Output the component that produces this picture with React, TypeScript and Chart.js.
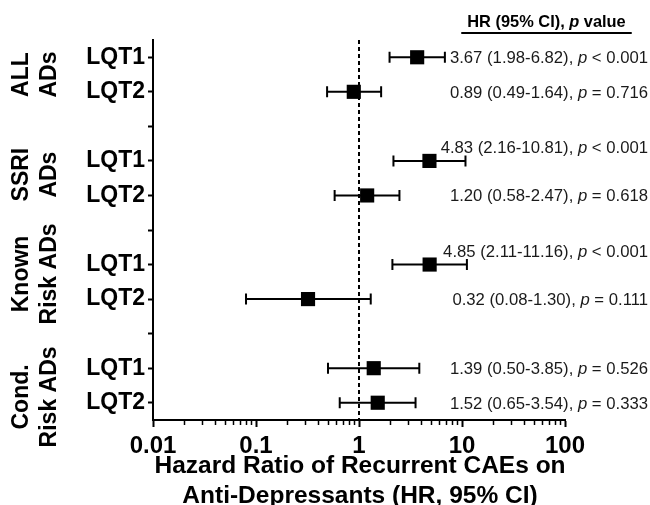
import React, { useEffect, useRef } from 'react';
import { Chart, registerables } from 'chart.js';

Chart.register(...registerables);

// ---------- data ----------
const groupLines = [
  ['ALL', 'ADs'],
  ['SSRI', 'ADs'],
  ['Known', 'Risk ADs'],
  ['Cond.', 'Risk ADs'],
];
const subtypes = ['LQT1', 'LQT2'];
const hr = [3.67, 0.89, 4.83, 1.2, 4.85, 0.32, 1.39, 1.52];
const ciLow = [1.98, 0.49, 2.16, 0.58, 2.11, 0.08, 0.5, 0.65];
const ciHigh = [6.82, 1.64, 10.81, 2.47, 11.16, 1.3, 3.85, 3.54];
const pRel = ['<', '=', '<', '=', '<', '=', '=', '='];
const pVal = ['0.001', '0.716', '0.001', '0.618', '0.001', '0.111', '0.526', '0.333'];
const xTickValues = [0.01, 0.1, 1, 10, 100];
const xTickLabels = ['0.01', '0.1', '1', '10', '100'];
const xTitle = ['Hazard Ratio of Recurrent CAEs on', 'Anti-Depressants (HR, 95% CI)'];
const headerParts = ['HR (95% CI), ', 'p', ' value'];

// ---------- helpers ----------
const FAMILY = '"Liberation Sans", Arial, Helvetica, sans-serif';
const rowsPerGroup = subtypes.length + 1;
const rowOf = (i: number) => Math.floor(i / subtypes.length) * rowsPerGroup + (i % subtypes.length);
const allRows = Array.from({ length: groupLines.length * rowsPerGroup - 1 }, (_, r) => r);
const fmt = (v: number) => v.toFixed(2);

type Seg = { text: string; font: string };

function segWidth(ctx: CanvasRenderingContext2D, segs: Seg[]) {
  let w = 0;
  for (const s of segs) {
    ctx.font = s.font;
    w += ctx.measureText(s.text).width;
  }
  return w;
}

function drawSegs(ctx: CanvasRenderingContext2D, segs: Seg[], x: number, y: number) {
  ctx.textAlign = 'left';
  ctx.textBaseline = 'alphabetic';
  let cx = x;
  for (const s of segs) {
    ctx.font = s.font;
    ctx.fillText(s.text, cx, y);
    cx += ctx.measureText(s.text).width;
  }
}

const forestPlugin = {
  id: 'forest',
  beforeDatasetsDraw(chart: any) {
    const { ctx, chartArea, scales } = chart;
    const xs = scales.x;
    const ys = scales.y;
    ctx.save();
    // reference line at HR = 1
    const x1 = xs.getPixelForValue(1);
    ctx.strokeStyle = '#000';
    ctx.lineWidth = 2;
    ctx.setLineDash([4, 3]);
    ctx.beginPath();
    ctx.moveTo(x1, chartArea.top);
    ctx.lineTo(x1, chartArea.bottom);
    ctx.stroke();
    ctx.setLineDash([]);
    // error bars
    ctx.lineWidth = 2;
    hr.forEach((_, i) => {
      const y = ys.getPixelForValue(rowOf(i));
      const a = xs.getPixelForValue(ciLow[i]);
      const b = xs.getPixelForValue(ciHigh[i]);
      ctx.beginPath();
      ctx.moveTo(a, y);
      ctx.lineTo(b, y);
      ctx.moveTo(a, y - 5.5);
      ctx.lineTo(a, y + 5.5);
      ctx.moveTo(b, y - 5.5);
      ctx.lineTo(b, y + 5.5);
      ctx.stroke();
    });
    ctx.restore();
  },
  afterDraw(chart: any) {
    const { ctx, chartArea, scales } = chart;
    const xs = scales.x;
    const ys = scales.y;
    ctx.save();
    ctx.fillStyle = '#000';
    ctx.strokeStyle = '#000';

    // minor x ticks
    ctx.lineWidth = 1.5;
    for (let d = 0; d < xTickValues.length - 1; d++) {
      for (let m = 2; m <= 9; m++) {
        const px = Math.round(xs.getPixelForValue(xTickValues[d] * m)) + 0.5;
        ctx.beginPath();
        ctx.moveTo(px, chartArea.bottom);
        ctx.lineTo(px, chartArea.bottom + 5);
        ctx.stroke();
      }
    }

    // x-axis title (two lines)
    ctx.font = `bold 24.5px ${FAMILY}`;
    ctx.textAlign = 'center';
    ctx.textBaseline = 'alphabetic';
    const tcx = (chartArea.left + chartArea.right) / 2 + 1;
    xTitle.forEach((t, k) => {
      ctx.fillText(t, tcx, chartArea.bottom + 53 + k * 30);
    });

    // annotations on the right
    const reg = `16.7px ${FAMILY}`;
    const ital = `italic 16.7px ${FAMILY}`;
    const rightEdge = 648;
    hr.forEach((v, i) => {
      const segs: Seg[] = [
        { text: `${fmt(v)} (${fmt(ciLow[i])}-${fmt(ciHigh[i])}), `, font: reg },
        { text: 'p', font: ital },
        { text: ` ${pRel[i]} ${pVal[i]}`, font: reg },
      ];
      const w = segWidth(ctx, segs);
      const left = rightEdge - w;
      let y = ys.getPixelForValue(rowOf(i));
      const hiPx = xs.getPixelForValue(ciHigh[i]);
      if (hiPx > left + 8) y -= 14;
      ctx.fillStyle = '#1a1a1a';
      drawSegs(ctx, segs, left, y + 6);
    });

    // header
    ctx.fillStyle = '#000';
    const hb = `bold 16.4px ${FAMILY}`;
    const hbi = `bold italic 16.4px ${FAMILY}`;
    const hsegs: Seg[] = [
      { text: headerParts[0], font: hb },
      { text: headerParts[1], font: hbi },
      { text: headerParts[2], font: hb },
    ];
    const hw = segWidth(ctx, hsegs);
    const hx = 546.5 - hw / 2;
    drawSegs(ctx, hsegs, hx, 27);
    ctx.lineWidth = 2;
    ctx.beginPath();
    ctx.moveTo(hx - 6, 33);
    ctx.lineTo(hx + hw + 6, 33);
    ctx.stroke();

    // group labels (rotated), spread apart where they would collide
    ctx.font = `bold 23px ${FAMILY}`;
    ctx.textAlign = 'center';
    ctx.textBaseline = 'middle';
    const centers = groupLines.map((_, g) => {
      const r0 = g * rowsPerGroup;
      return (ys.getPixelForValue(r0) + ys.getPixelForValue(r0 + subtypes.length - 1)) / 2;
    });
    const halves = groupLines.map((lines) => Math.max(...lines.map((t) => ctx.measureText(t).width)) / 2);
    const minGap = 22;
    for (let iter = 0; iter < 5; iter++) {
      for (let g = 0; g < centers.length - 1; g++) {
        const gap = centers[g + 1] - halves[g + 1] - (centers[g] + halves[g]);
        if (gap < minGap) {
          const s = (minGap - gap) / 2;
          centers[g] -= s;
          centers[g + 1] += s;
        }
      }
    }
    groupLines.forEach((lines, g) => {
      lines.forEach((t, k) => {
        ctx.save();
        ctx.translate(22 + k * 28, centers[g]);
        ctx.rotate(-Math.PI / 2);
        ctx.fillText(t, 0, 0);
        ctx.restore();
      });
    });
    ctx.restore();
  },
};

export default function App() {
  const ref = useRef<HTMLCanvasElement | null>(null);

  useEffect(() => {
    document.body.style.margin = '0';
    const canvas = ref.current;
    if (!canvas) return;
    const chart = new Chart(canvas, {
      type: 'scatter',
      data: {
        datasets: [
          {
            data: hr.map((v, i) => ({ x: v, y: rowOf(i) })),
            pointStyle: 'rect',
            pointRadius: 10,
            pointHoverRadius: 10,
            backgroundColor: '#000',
            borderColor: '#000',
            borderWidth: 0,
          },
        ],
      },
      options: {
        responsive: false,
        animation: false,
        devicePixelRatio: 1,
        events: [],
        layout: { padding: { top: 40, right: 85, left: 0, bottom: 0 } },
        plugins: {
          legend: { display: false },
          tooltip: { enabled: false },
        },
        scales: {
          x: {
            type: 'logarithmic',
            min: 0.01,
            max: 100,
            afterBuildTicks: (s: any) => {
              s.ticks = xTickValues.map((v) => ({ value: v, major: true }));
            },
            afterFit: (s: any) => {
              s.height = 85;
            },
            ticks: {
              autoSkip: false,
              maxRotation: 0,
              padding: 5,
              color: '#000',
              font: { family: FAMILY, size: 24, weight: 'bold' },
              callback: (_v: any, idx: number) => xTickLabels[idx],
            },
            grid: { drawOnChartArea: false, tickLength: 7, tickWidth: 2, color: '#000' },
            border: { display: true, width: 2, color: '#000' },
            title: { display: false },
          },
          y: {
            type: 'linear',
            min: -0.5,
            max: 10.5,
            reverse: true,
            afterBuildTicks: (s: any) => {
              s.ticks = allRows.map((r) => ({ value: r }));
            },
            afterFit: (s: any) => {
              s.width = 153;
            },
            ticks: {
              autoSkip: false,
              padding: 3,
              color: '#000',
              font: { family: FAMILY, size: 23, weight: 'bold' },
              callback: (v: any) => {
                const r = Number(v) % rowsPerGroup;
                return r < subtypes.length ? subtypes[r] : '';
              },
            },
            grid: { drawOnChartArea: false, tickLength: 5, tickWidth: 2, color: '#000' },
            border: { display: true, width: 2, color: '#000' },
          },
        },
      },
      plugins: [forestPlugin],
    } as any);
    return () => chart.destroy();
  }, []);

  return <canvas ref={ref} width={650} height={505} style={{ display: 'block' }} />;
}
